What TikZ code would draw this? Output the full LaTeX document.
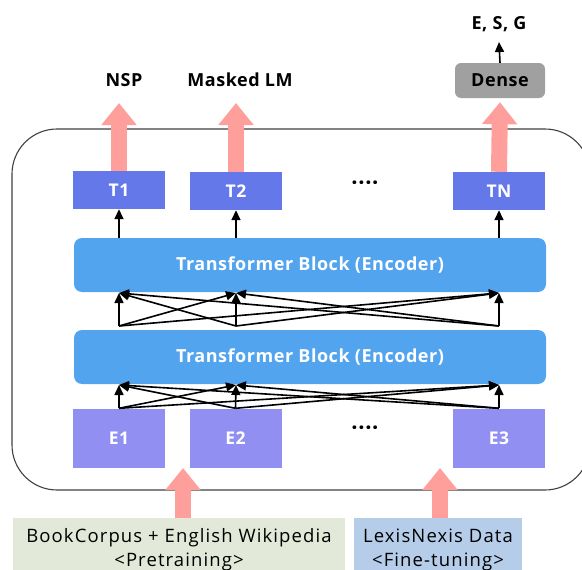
\documentclass[tikz,border=0pt]{standalone}
\usepackage{fontspec}
\setmainfont{Open Sans}[LetterSpace=3]
\newfontfamily\datafont{Open Sans}[LetterSpace=6]
\usetikzlibrary{arrows.meta}
\definecolor{tokcol}{HTML}{6478EA}
\definecolor{embcol}{HTML}{9190F2}
\definecolor{blkcol}{HTML}{53A4EE}
\definecolor{pinkcol}{HTML}{FF9F9B}
\definecolor{densecol}{HTML}{A0A0A0}
\definecolor{precol}{HTML}{E3E9D9}
\definecolor{finecol}{HTML}{B6CDE9}
\definecolor{framecol}{HTML}{404040}
\begin{document}
\begin{tikzpicture}[x=1pt,y=-1pt,
  tok/.style={fill=tokcol, text=white, font=\bfseries\fontsize{17.5}{20}\selectfont,
    minimum width=92pt, minimum height=38pt, inner sep=0pt},
  emb/.style={fill=embcol, text=white, font=\bfseries\fontsize{17.5}{20}\selectfont,
    minimum width=92pt, minimum height=59pt, inner sep=0pt},
  encblock/.style={fill=blkcol, text=white, rounded corners=8pt,
    font=\bfseries\fontsize{18}{20}\selectfont,
    minimum width=472pt, minimum height=54pt, inner sep=0pt},
  lbl/.style={font=\bfseries\fontsize{18}{20}\selectfont, inner sep=0pt},
  databox/.style={font=\datafont\fontsize{18.5}{24}\selectfont, align=center,
    minimum height=63pt, inner sep=0pt, anchor=north},
  fat/.style={draw=pinkcol, line width=16pt, -{Triangle[width=34pt,length=22pt]}},
  thin/.style={line width=1.6pt, -{Triangle[width=9pt,length=10pt]}},
]
\useasboundingbox (0,0) rectangle (582,570);

% outer frame of the model
\node[draw=framecol, line width=1.1pt, rounded corners=45pt,
  minimum width=578pt, minimum height=361pt] (frame) at (301,309.5) {};

% output tokens
\node[tok] (T1) at (119,190) {T1};
\node[tok] (T2) at (236,191) {T2};
\node[tok] (TN) at (499,191) {TN};
\node[lbl, font=\bfseries\fontsize{22}{22}\selectfont] (tdots) at (365,186) {····};

% encoder blocks
\node[encblock] (B1) at (310,265) {Transformer Block (Encoder)};
\node[encblock] (B2) at (310,357) {Transformer Block (Encoder)};

% input embeddings
\node[emb] (E1) at (119,438) {E1};
\node[emb] (E2) at (235.5,438) {E2};
\node[emb] (E3) at (499,438) {E3};
\node[lbl, font=\bfseries\fontsize{22}{22}\selectfont] (edots) at (365,431) {····};

% task heads
\node[lbl] (nsp) at (124,80) {NSP};
\node[lbl] (mlm) at (240,80) {Masked LM};
\node[fill=densecol, rounded corners=6pt, minimum width=90pt, minimum height=35pt,
  inner sep=0pt, font=\bfseries\fontsize{18}{20}\selectfont] (dense) at (500,80.5) {Dense};
\node[lbl] (esg) at (499,24) {E, S, G};

% data sources
\node[databox, fill=precol, minimum width=332pt] (pre) at (179,518)
  {BookCorpus + English Wikipedia\\<Pretraining>};
\node[databox, fill=finecol, minimum width=168pt] (fine) at (438,518)
  {LexisNexis Data\\<Fine-tuning>};

% thick pink arrows
\coordinate (nspend) at (119,103);
\coordinate (mlmend) at (236,103);
\draw[fat] (T1.north) -- (nspend);
\draw[fat] (T2.north) -- (mlmend);
\draw[fat] (TN.north) -- ([yshift=-4pt]dense.south);
\coordinate (prein) at (183,468);
\coordinate (finein) at (440,468);
\draw[fat] (pre.north -| prein) -- (prein);
\draw[fat] (fine.north -| finein) -- (finein);

% thin black arrows
\coordinate (esgfoot) at (499,42);
\draw[thin] (dense.north) -- (esgfoot);
\foreach \t in {T1,T2,TN}
  \draw[thin] (B1.north -| \t) -- (\t.south);

% fully connected links between layers
\foreach \s/\x in {1/119,2/236,3/499} {
  \coordinate (up\s) at (\x,326);
  \coordinate (ut\s) at (\x,293);
  \coordinate (lt\s) at (\x,385);
}
\foreach \a in {1,2,3}
  \foreach \b in {1,2,3} {
    \draw[thin] (up\a) -- (ut\b);
  }
\foreach \e in {E1,E2,E3}
  \foreach \t in {1,2,3} {
    \draw[thin] (\e.north) -- (lt\t);
  }
\end{tikzpicture}
\end{document}
